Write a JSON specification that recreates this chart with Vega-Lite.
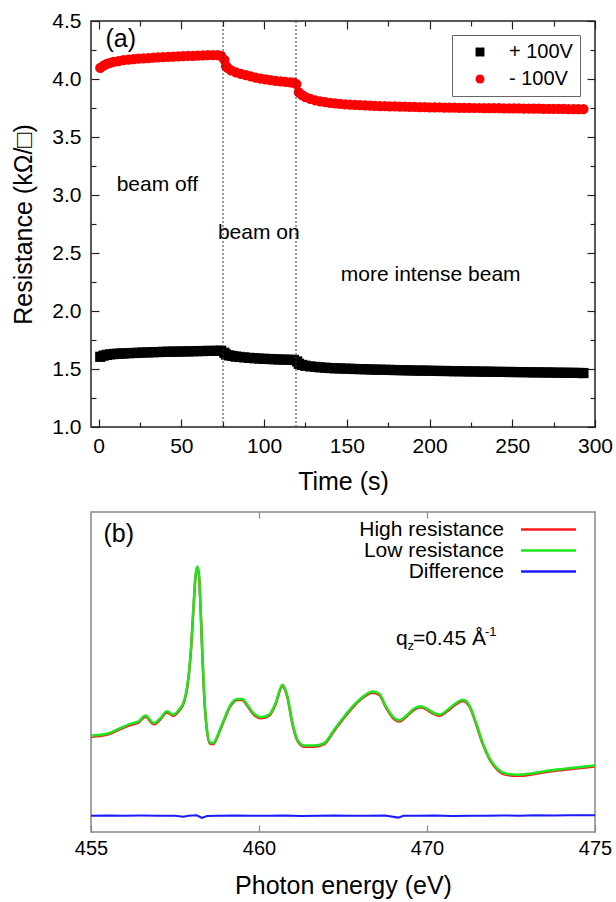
{
  "$schema": "https://vega.github.io/schema/vega-lite/v6.json",
  "padding": {"left": 11, "top": 9, "right": 0, "bottom": 0},
  "spacing": 15,
  "config": {
    "font": "Liberation Sans",
    "view": {"stroke": "#222"},
    "axis": {"grid": false, "domain": false, "labelColor": "#000", "titleColor": "#000", "titleFontWeight": "normal", "tickColor": "#222", "labelFont": "Liberation Sans", "titleFont": "Liberation Sans", "labelFlush": false, "labelOverlap": false, "labelBound": false},
    "legend": {"labelFont": "Liberation Sans", "labelColor": "#000"},
    "text": {"font": "Liberation Sans"}
  },
  "resolve": {"scale": {"color": "independent", "shape": "independent"}},
  "datasets": {
    "res": [
      {"t":1,"r":4.095,"s":"- 100V"},{"t":3,"r":4.115,"s":"- 100V"},{"t":5,"r":4.13,"s":"- 100V"},{"t":7,"r":4.14,"s":"- 100V"},{"t":9,"r":4.148,"s":"- 100V"},{"t":12,"r":4.155,"s":"- 100V"},{"t":15,"r":4.162,"s":"- 100V"},{"t":18,"r":4.167,"s":"- 100V"},{"t":21,"r":4.171,"s":"- 100V"},{"t":24,"r":4.175,"s":"- 100V"},{"t":27,"r":4.178,"s":"- 100V"},{"t":30,"r":4.181,"s":"- 100V"},{"t":33,"r":4.184,"s":"- 100V"},{"t":36,"r":4.187,"s":"- 100V"},{"t":39,"r":4.189,"s":"- 100V"},{"t":42,"r":4.191,"s":"- 100V"},{"t":45,"r":4.193,"s":"- 100V"},{"t":48,"r":4.195,"s":"- 100V"},{"t":51,"r":4.197,"s":"- 100V"},{"t":54,"r":4.199,"s":"- 100V"},{"t":57,"r":4.2,"s":"- 100V"},{"t":60,"r":4.202,"s":"- 100V"},{"t":63,"r":4.203,"s":"- 100V"},{"t":66,"r":4.205,"s":"- 100V"},{"t":69,"r":4.206,"s":"- 100V"},{"t":72,"r":4.206,"s":"- 100V"},{"t":74,"r":4.2,"s":"- 100V"},{"t":76,"r":4.165,"s":"- 100V"},{"t":77,"r":4.11,"s":"- 100V"},{"t":78,"r":4.095,"s":"- 100V"},{"t":80,"r":4.075,"s":"- 100V"},{"t":83,"r":4.058,"s":"- 100V"},{"t":86,"r":4.045,"s":"- 100V"},{"t":89,"r":4.033,"s":"- 100V"},{"t":92,"r":4.022,"s":"- 100V"},{"t":95,"r":4.012,"s":"- 100V"},{"t":98,"r":4.003,"s":"- 100V"},{"t":101,"r":3.996,"s":"- 100V"},{"t":104,"r":3.99,"s":"- 100V"},{"t":107,"r":3.984,"s":"- 100V"},{"t":110,"r":3.979,"s":"- 100V"},{"t":113,"r":3.975,"s":"- 100V"},{"t":116,"r":3.971,"s":"- 100V"},{"t":118,"r":3.968,"s":"- 100V"},{"t":119.5,"r":3.955,"s":"- 100V"},{"t":121,"r":3.885,"s":"- 100V"},{"t":123,"r":3.86,"s":"- 100V"},{"t":125,"r":3.843,"s":"- 100V"},{"t":128,"r":3.828,"s":"- 100V"},{"t":131,"r":3.816,"s":"- 100V"},{"t":134,"r":3.808,"s":"- 100V"},{"t":137,"r":3.8,"s":"- 100V"},{"t":140,"r":3.794,"s":"- 100V"},{"t":143,"r":3.789,"s":"- 100V"},{"t":146,"r":3.785,"s":"- 100V"},{"t":149,"r":3.782,"s":"- 100V"},{"t":152,"r":3.779,"s":"- 100V"},{"t":155,"r":3.777,"s":"- 100V"},{"t":158,"r":3.774,"s":"- 100V"},{"t":161,"r":3.772,"s":"- 100V"},{"t":164,"r":3.77,"s":"- 100V"},{"t":167,"r":3.769,"s":"- 100V"},{"t":170,"r":3.767,"s":"- 100V"},{"t":173,"r":3.766,"s":"- 100V"},{"t":176,"r":3.765,"s":"- 100V"},{"t":179,"r":3.763,"s":"- 100V"},{"t":182,"r":3.762,"s":"- 100V"},{"t":185,"r":3.761,"s":"- 100V"},{"t":188,"r":3.76,"s":"- 100V"},{"t":191,"r":3.759,"s":"- 100V"},{"t":194,"r":3.758,"s":"- 100V"},{"t":197,"r":3.757,"s":"- 100V"},{"t":200,"r":3.756,"s":"- 100V"},{"t":203,"r":3.755,"s":"- 100V"},{"t":206,"r":3.755,"s":"- 100V"},{"t":209,"r":3.754,"s":"- 100V"},{"t":212,"r":3.753,"s":"- 100V"},{"t":215,"r":3.753,"s":"- 100V"},{"t":218,"r":3.752,"s":"- 100V"},{"t":221,"r":3.752,"s":"- 100V"},{"t":224,"r":3.751,"s":"- 100V"},{"t":227,"r":3.75,"s":"- 100V"},{"t":230,"r":3.75,"s":"- 100V"},{"t":233,"r":3.749,"s":"- 100V"},{"t":236,"r":3.749,"s":"- 100V"},{"t":239,"r":3.748,"s":"- 100V"},{"t":242,"r":3.748,"s":"- 100V"},{"t":245,"r":3.747,"s":"- 100V"},{"t":248,"r":3.747,"s":"- 100V"},{"t":251,"r":3.746,"s":"- 100V"},{"t":254,"r":3.746,"s":"- 100V"},{"t":257,"r":3.745,"s":"- 100V"},{"t":260,"r":3.745,"s":"- 100V"},{"t":263,"r":3.744,"s":"- 100V"},{"t":266,"r":3.744,"s":"- 100V"},{"t":269,"r":3.743,"s":"- 100V"},{"t":272,"r":3.743,"s":"- 100V"},{"t":275,"r":3.743,"s":"- 100V"},{"t":278,"r":3.742,"s":"- 100V"},{"t":281,"r":3.742,"s":"- 100V"},{"t":284,"r":3.741,"s":"- 100V"},{"t":287,"r":3.741,"s":"- 100V"},{"t":290,"r":3.741,"s":"- 100V"},{"t":293,"r":3.74,"s":"- 100V"},
      {"t":1,"r":1.605,"s":"+ 100V"},{"t":3,"r":1.615,"s":"+ 100V"},{"t":5,"r":1.622,"s":"+ 100V"},{"t":7,"r":1.626,"s":"+ 100V"},{"t":9,"r":1.629,"s":"+ 100V"},{"t":11,"r":1.631,"s":"+ 100V"},{"t":13,"r":1.633,"s":"+ 100V"},{"t":15,"r":1.634,"s":"+ 100V"},{"t":18,"r":1.636,"s":"+ 100V"},{"t":21,"r":1.638,"s":"+ 100V"},{"t":24,"r":1.64,"s":"+ 100V"},{"t":27,"r":1.642,"s":"+ 100V"},{"t":30,"r":1.643,"s":"+ 100V"},{"t":33,"r":1.645,"s":"+ 100V"},{"t":36,"r":1.646,"s":"+ 100V"},{"t":39,"r":1.648,"s":"+ 100V"},{"t":42,"r":1.649,"s":"+ 100V"},{"t":45,"r":1.65,"s":"+ 100V"},{"t":48,"r":1.65,"s":"+ 100V"},{"t":51,"r":1.651,"s":"+ 100V"},{"t":54,"r":1.652,"s":"+ 100V"},{"t":57,"r":1.653,"s":"+ 100V"},{"t":60,"r":1.654,"s":"+ 100V"},{"t":63,"r":1.655,"s":"+ 100V"},{"t":66,"r":1.656,"s":"+ 100V"},{"t":69,"r":1.656,"s":"+ 100V"},{"t":72,"r":1.657,"s":"+ 100V"},{"t":74,"r":1.657,"s":"+ 100V"},{"t":76,"r":1.64,"s":"+ 100V"},{"t":77,"r":1.625,"s":"+ 100V"},{"t":79,"r":1.617,"s":"+ 100V"},{"t":81,"r":1.612,"s":"+ 100V"},{"t":83,"r":1.607,"s":"+ 100V"},{"t":85,"r":1.604,"s":"+ 100V"},{"t":88,"r":1.6,"s":"+ 100V"},{"t":91,"r":1.596,"s":"+ 100V"},{"t":94,"r":1.593,"s":"+ 100V"},{"t":97,"r":1.59,"s":"+ 100V"},{"t":100,"r":1.588,"s":"+ 100V"},{"t":103,"r":1.586,"s":"+ 100V"},{"t":106,"r":1.584,"s":"+ 100V"},{"t":109,"r":1.582,"s":"+ 100V"},{"t":112,"r":1.581,"s":"+ 100V"},{"t":115,"r":1.58,"s":"+ 100V"},{"t":118,"r":1.578,"s":"+ 100V"},{"t":120,"r":1.565,"s":"+ 100V"},{"t":121,"r":1.545,"s":"+ 100V"},{"t":123,"r":1.535,"s":"+ 100V"},{"t":125,"r":1.528,"s":"+ 100V"},{"t":128,"r":1.522,"s":"+ 100V"},{"t":131,"r":1.518,"s":"+ 100V"},{"t":134,"r":1.514,"s":"+ 100V"},{"t":137,"r":1.511,"s":"+ 100V"},{"t":140,"r":1.508,"s":"+ 100V"},{"t":143,"r":1.506,"s":"+ 100V"},{"t":146,"r":1.505,"s":"+ 100V"},{"t":149,"r":1.503,"s":"+ 100V"},{"t":152,"r":1.502,"s":"+ 100V"},{"t":155,"r":1.5,"s":"+ 100V"},{"t":158,"r":1.499,"s":"+ 100V"},{"t":161,"r":1.498,"s":"+ 100V"},{"t":164,"r":1.496,"s":"+ 100V"},{"t":167,"r":1.495,"s":"+ 100V"},{"t":170,"r":1.494,"s":"+ 100V"},{"t":173,"r":1.493,"s":"+ 100V"},{"t":176,"r":1.492,"s":"+ 100V"},{"t":179,"r":1.491,"s":"+ 100V"},{"t":182,"r":1.49,"s":"+ 100V"},{"t":185,"r":1.489,"s":"+ 100V"},{"t":188,"r":1.488,"s":"+ 100V"},{"t":191,"r":1.487,"s":"+ 100V"},{"t":194,"r":1.486,"s":"+ 100V"},{"t":197,"r":1.486,"s":"+ 100V"},{"t":200,"r":1.485,"s":"+ 100V"},{"t":203,"r":1.484,"s":"+ 100V"},{"t":206,"r":1.483,"s":"+ 100V"},{"t":209,"r":1.483,"s":"+ 100V"},{"t":212,"r":1.482,"s":"+ 100V"},{"t":215,"r":1.481,"s":"+ 100V"},{"t":218,"r":1.481,"s":"+ 100V"},{"t":221,"r":1.48,"s":"+ 100V"},{"t":224,"r":1.479,"s":"+ 100V"},{"t":227,"r":1.479,"s":"+ 100V"},{"t":230,"r":1.478,"s":"+ 100V"},{"t":233,"r":1.477,"s":"+ 100V"},{"t":236,"r":1.477,"s":"+ 100V"},{"t":239,"r":1.476,"s":"+ 100V"},{"t":242,"r":1.475,"s":"+ 100V"},{"t":245,"r":1.475,"s":"+ 100V"},{"t":248,"r":1.474,"s":"+ 100V"},{"t":251,"r":1.474,"s":"+ 100V"},{"t":254,"r":1.473,"s":"+ 100V"},{"t":257,"r":1.473,"s":"+ 100V"},{"t":260,"r":1.472,"s":"+ 100V"},{"t":263,"r":1.471,"s":"+ 100V"},{"t":266,"r":1.471,"s":"+ 100V"},{"t":269,"r":1.47,"s":"+ 100V"},{"t":272,"r":1.47,"s":"+ 100V"},{"t":275,"r":1.469,"s":"+ 100V"},{"t":278,"r":1.468,"s":"+ 100V"},{"t":281,"r":1.468,"s":"+ 100V"},{"t":284,"r":1.467,"s":"+ 100V"},{"t":287,"r":1.467,"s":"+ 100V"},{"t":290,"r":1.466,"s":"+ 100V"},{"t":293,"r":1.465,"s":"+ 100V"}
    ],
    "lines_a": [{"t": 75.2}, {"t": 119.3}],
    "notes_a": [
      {"t": 35.5, "r": 3.086, "label": "beam off"},
      {"t": 96.8, "r": 2.672, "label": "beam on"},
      {"t": 200.7, "r": 2.31, "label": "more intense beam"}
    ],
    "tag_a": [{"t": 13.4, "r": 4.345, "label": "(a)"}],
    "spec": [
      {"E":450.00,"v":29.75,"s":"High resistance"},{"E":450.95,"v":30.35,"s":"High resistance"},{"E":451.55,"v":31.65,"s":"High resistance"},{"E":452.34,"v":33.45,"s":"High resistance"},{"E":452.84,"v":34.25,"s":"High resistance"},{"E":453.24,"v":36.05,"s":"High resistance"},{"E":453.74,"v":33.65,"s":"High resistance"},{"E":454.13,"v":35.25,"s":"High resistance"},{"E":454.53,"v":37.35,"s":"High resistance"},{"E":454.89,"v":36.35,"s":"High resistance"},{"E":455.23,"v":37.85,"s":"High resistance"},{"E":455.53,"v":40.45,"s":"High resistance"},{"E":455.73,"v":45.15,"s":"High resistance"},{"E":455.92,"v":54.55,"s":"High resistance"},{"E":456.08,"v":68.05,"s":"High resistance"},{"E":456.22,"v":79.55,"s":"High resistance"},{"E":456.32,"v":82.65,"s":"High resistance"},{"E":456.42,"v":80.55,"s":"High resistance"},{"E":456.52,"v":70.15,"s":"High resistance"},{"E":456.62,"v":56.65,"s":"High resistance"},{"E":456.72,"v":44.15,"s":"High resistance"},{"E":456.88,"v":32.65,"s":"High resistance"},{"E":457.08,"v":27.65,"s":"High resistance"},{"E":457.28,"v":27.45,"s":"High resistance"},{"E":457.51,"v":29.55,"s":"High resistance"},{"E":457.91,"v":34.75,"s":"High resistance"},{"E":458.31,"v":39.45,"s":"High resistance"},{"E":458.71,"v":41.25,"s":"High resistance"},{"E":459.01,"v":41.25,"s":"High resistance"},{"E":459.30,"v":39.45,"s":"High resistance"},{"E":459.70,"v":36.65,"s":"High resistance"},{"E":460.10,"v":35.55,"s":"High resistance"},{"E":460.60,"v":36.35,"s":"High resistance"},{"E":460.99,"v":39.95,"s":"High resistance"},{"E":461.39,"v":45.65,"s":"High resistance"},{"E":461.69,"v":42.05,"s":"High resistance"},{"E":461.99,"v":33.75,"s":"High resistance"},{"E":462.29,"v":28.45,"s":"High resistance"},{"E":462.69,"v":26.65,"s":"High resistance"},{"E":463.28,"v":26.65,"s":"High resistance"},{"E":463.88,"v":27.45,"s":"High resistance"},{"E":464.48,"v":31.65,"s":"High resistance"},{"E":465.07,"v":35.75,"s":"High resistance"},{"E":465.67,"v":39.45,"s":"High resistance"},{"E":466.26,"v":42.25,"s":"High resistance"},{"E":466.76,"v":43.55,"s":"High resistance"},{"E":467.16,"v":42.85,"s":"High resistance"},{"E":467.55,"v":38.95,"s":"High resistance"},{"E":468.05,"v":35.25,"s":"High resistance"},{"E":468.35,"v":34.55,"s":"High resistance"},{"E":468.75,"v":35.95,"s":"High resistance"},{"E":469.24,"v":38.25,"s":"High resistance"},{"E":469.64,"v":38.95,"s":"High resistance"},{"E":470.04,"v":38.05,"s":"High resistance"},{"E":470.24,"v":37.35,"s":"High resistance"},{"E":470.74,"v":36.35,"s":"High resistance"},{"E":471.23,"v":37.85,"s":"High resistance"},{"E":471.73,"v":39.95,"s":"High resistance"},{"E":472.13,"v":40.95,"s":"High resistance"},{"E":472.53,"v":39.15,"s":"High resistance"},{"E":472.92,"v":33.75,"s":"High resistance"},{"E":473.32,"v":27.45,"s":"High resistance"},{"E":473.72,"v":22.75,"s":"High resistance"},{"E":474.21,"v":19.35,"s":"High resistance"},{"E":474.71,"v":17.85,"s":"High resistance"},{"E":475.41,"v":17.55,"s":"High resistance"},{"E":476.20,"v":17.95,"s":"High resistance"},{"E":477.39,"v":18.95,"s":"High resistance"},{"E":478.59,"v":19.65,"s":"High resistance"},{"E":479.98,"v":20.45,"s":"High resistance"},
      {"E":450.00,"v":30.1,"s":"Low resistance"},{"E":450.95,"v":30.7,"s":"Low resistance"},{"E":451.55,"v":32.0,"s":"Low resistance"},{"E":452.34,"v":33.8,"s":"Low resistance"},{"E":452.84,"v":34.6,"s":"Low resistance"},{"E":453.24,"v":36.4,"s":"Low resistance"},{"E":453.74,"v":34.0,"s":"Low resistance"},{"E":454.13,"v":35.6,"s":"Low resistance"},{"E":454.53,"v":37.7,"s":"Low resistance"},{"E":454.89,"v":36.7,"s":"Low resistance"},{"E":455.23,"v":38.2,"s":"Low resistance"},{"E":455.53,"v":40.8,"s":"Low resistance"},{"E":455.73,"v":45.5,"s":"Low resistance"},{"E":455.92,"v":54.9,"s":"Low resistance"},{"E":456.08,"v":68.4,"s":"Low resistance"},{"E":456.22,"v":79.9,"s":"Low resistance"},{"E":456.32,"v":83.0,"s":"Low resistance"},{"E":456.42,"v":80.9,"s":"Low resistance"},{"E":456.52,"v":70.5,"s":"Low resistance"},{"E":456.62,"v":57.0,"s":"Low resistance"},{"E":456.72,"v":44.5,"s":"Low resistance"},{"E":456.88,"v":33.0,"s":"Low resistance"},{"E":457.08,"v":28.0,"s":"Low resistance"},{"E":457.28,"v":27.8,"s":"Low resistance"},{"E":457.51,"v":29.9,"s":"Low resistance"},{"E":457.91,"v":35.1,"s":"Low resistance"},{"E":458.31,"v":39.8,"s":"Low resistance"},{"E":458.71,"v":41.6,"s":"Low resistance"},{"E":459.01,"v":41.6,"s":"Low resistance"},{"E":459.30,"v":39.8,"s":"Low resistance"},{"E":459.70,"v":37.0,"s":"Low resistance"},{"E":460.10,"v":35.9,"s":"Low resistance"},{"E":460.60,"v":36.7,"s":"Low resistance"},{"E":460.99,"v":40.3,"s":"Low resistance"},{"E":461.39,"v":46.0,"s":"Low resistance"},{"E":461.69,"v":42.4,"s":"Low resistance"},{"E":461.99,"v":34.1,"s":"Low resistance"},{"E":462.29,"v":28.8,"s":"Low resistance"},{"E":462.69,"v":27.0,"s":"Low resistance"},{"E":463.28,"v":27.0,"s":"Low resistance"},{"E":463.88,"v":27.8,"s":"Low resistance"},{"E":464.48,"v":32.0,"s":"Low resistance"},{"E":465.07,"v":36.1,"s":"Low resistance"},{"E":465.67,"v":39.8,"s":"Low resistance"},{"E":466.26,"v":42.6,"s":"Low resistance"},{"E":466.76,"v":43.9,"s":"Low resistance"},{"E":467.16,"v":43.2,"s":"Low resistance"},{"E":467.55,"v":39.3,"s":"Low resistance"},{"E":468.05,"v":35.6,"s":"Low resistance"},{"E":468.35,"v":34.9,"s":"Low resistance"},{"E":468.75,"v":36.3,"s":"Low resistance"},{"E":469.24,"v":38.6,"s":"Low resistance"},{"E":469.64,"v":39.3,"s":"Low resistance"},{"E":470.04,"v":38.4,"s":"Low resistance"},{"E":470.24,"v":37.7,"s":"Low resistance"},{"E":470.74,"v":36.7,"s":"Low resistance"},{"E":471.23,"v":38.2,"s":"Low resistance"},{"E":471.73,"v":40.3,"s":"Low resistance"},{"E":472.13,"v":41.3,"s":"Low resistance"},{"E":472.53,"v":39.5,"s":"Low resistance"},{"E":472.92,"v":34.1,"s":"Low resistance"},{"E":473.32,"v":27.8,"s":"Low resistance"},{"E":473.72,"v":23.1,"s":"Low resistance"},{"E":474.21,"v":19.7,"s":"Low resistance"},{"E":474.71,"v":18.2,"s":"Low resistance"},{"E":475.41,"v":17.9,"s":"Low resistance"},{"E":476.20,"v":18.3,"s":"Low resistance"},{"E":477.39,"v":19.3,"s":"Low resistance"},{"E":478.59,"v":20.0,"s":"Low resistance"},{"E":479.98,"v":20.8,"s":"Low resistance"},
      {"E":450.0,"v":5.1,"s":"Difference"},{"E":451.0,"v":5.15,"s":"Difference"},{"E":452.0,"v":5.05,"s":"Difference"},{"E":453.0,"v":5.12,"s":"Difference"},{"E":454.0,"v":5.1,"s":"Difference"},{"E":455.0,"v":5.05,"s":"Difference"},{"E":455.5,"v":4.8,"s":"Difference"},{"E":455.8,"v":5.1,"s":"Difference"},{"E":456.3,"v":5.2,"s":"Difference"},{"E":456.6,"v":4.4,"s":"Difference"},{"E":456.9,"v":5.0,"s":"Difference"},{"E":457.5,"v":5.1,"s":"Difference"},{"E":458.5,"v":5.15,"s":"Difference"},{"E":459.5,"v":5.05,"s":"Difference"},{"E":460.5,"v":5.1,"s":"Difference"},{"E":461.5,"v":5.12,"s":"Difference"},{"E":462.5,"v":5.0,"s":"Difference"},{"E":463.5,"v":5.1,"s":"Difference"},{"E":464.5,"v":5.15,"s":"Difference"},{"E":465.5,"v":5.05,"s":"Difference"},{"E":466.5,"v":5.1,"s":"Difference"},{"E":467.5,"v":5.15,"s":"Difference"},{"E":468.3,"v":4.5,"s":"Difference"},{"E":468.6,"v":5.05,"s":"Difference"},{"E":469.5,"v":5.1,"s":"Difference"},{"E":470.5,"v":5.15,"s":"Difference"},{"E":471.5,"v":5.0,"s":"Difference"},{"E":472.5,"v":5.1,"s":"Difference"},{"E":473.5,"v":5.05,"s":"Difference"},{"E":474.5,"v":5.15,"s":"Difference"},{"E":475.5,"v":5.1,"s":"Difference"},{"E":476.5,"v":5.2,"s":"Difference"},{"E":477.5,"v":5.15,"s":"Difference"},{"E":478.5,"v":5.2,"s":"Difference"},{"E":479.5,"v":5.25,"s":"Difference"},{"E":480.0,"v":5.25,"s":"Difference"}
    ],
    "tag_b": [{"E": 451.65, "v": 93.2, "label": "(b)"}],
    "qz": [{"E": 468.15, "v": 58.4}]
  },
  "vconcat": [
    {
      "width": 504,
      "height": 406,
      "view": {"stroke": "#222", "strokeWidth": 1.5},
      "resolve": {"axis": {"x": "independent", "y": "independent"}},
      "layer": [
        {
          "data": {"name": "res"},
          "mark": {"type": "point", "filled": true, "opacity": 1, "size": 105},
          "encoding": {
            "x": {"field": "t", "type": "quantitative", "scale": {"domain": [-4.6, 300], "nice": false, "zero": false},
              "axis": {"orient": "bottom", "title": "Time (s)", "values": [0,25,50,75,100,125,150,175,200,225,250,275,300],
                "labelExpr": "datum.value % 50 == 0 ? datum.label : ''",
                "tickSize": {"condition": {"test": "datum.value % 50 == 0", "value": -8}, "value": -5},
                "labelFontSize": 21, "labelPadding": 16, "titleFontSize": 25, "titlePadding": 10, "tickWidth": 1.2}},
            "y": {"field": "r", "type": "quantitative", "scale": {"domain": [1, 4.5], "nice": false, "zero": false},
              "axis": {"orient": "left", "title": "Resistance (kΩ/□)", "values": [1,1.25,1.5,1.75,2,2.25,2.5,2.75,3,3.25,3.5,3.75,4,4.25,4.5],
                "labelExpr": "round(datum.value*4) % 2 == 0 ? format(datum.value, '.1f') : ''",
                "tickSize": {"condition": {"test": "round(datum.value*4) % 2 == 0", "value": -8}, "value": -5},
                "labelFontSize": 21, "labelPadding": 18, "titleFontSize": 25, "titlePadding": 15, "tickWidth": 1.2}},
            "color": {"field": "s", "type": "nominal", "scale": {"domain": ["+ 100V", "- 100V"], "range": ["#000000", "#ff0000"]},
              "legend": {"title": null, "orient": "none", "legendX": 361, "legendY": 14, "strokeColor": "#666", "padding": 7, "symbolOffset": 11, "labelOffset": 19, "labelFontSize": 20, "rowPadding": 7, "symbolSize": 80, "fillColor": "#fff"}},
            "shape": {"field": "s", "type": "nominal", "scale": {"domain": ["+ 100V", "- 100V"], "range": ["square", "circle"]},
              "legend": {"title": null, "orient": "none", "legendX": 361, "legendY": 14, "strokeColor": "#666", "padding": 7, "symbolOffset": 11, "labelOffset": 19, "labelFontSize": 20, "rowPadding": 7, "symbolSize": 80, "fillColor": "#fff"}}
          }
        },
        {
          "data": {"name": "lines_a"},
          "mark": {"type": "rule", "color": "#333", "strokeDash": [2, 2], "strokeWidth": 1},
          "encoding": {
            "x": {"field": "t", "type": "quantitative",
              "axis": {"orient": "top", "title": null, "labels": false, "values": [0,25,50,75,100,125,150,175,200,225,250,275,300],
                "tickSize": {"condition": {"test": "datum.value % 50 == 0", "value": -8}, "value": -5}, "tickWidth": 1.2}}
          }
        },
        {
          "data": {"name": "notes_a"},
          "mark": {"type": "text", "fontSize": 21, "align": "center", "baseline": "middle", "color": "#000"},
          "encoding": {
            "x": {"field": "t", "type": "quantitative", "axis": null},
            "y": {"field": "r", "type": "quantitative",
              "axis": {"orient": "right", "title": null, "labels": false, "values": [1,1.25,1.5,1.75,2,2.25,2.5,2.75,3,3.25,3.5,3.75,4,4.25,4.5],
                "tickSize": {"condition": {"test": "round(datum.value*4) % 2 == 0", "value": -8}, "value": -5}, "tickWidth": 1.2}},
            "text": {"field": "label"}
          }
        },
        {
          "data": {"name": "tag_a"},
          "mark": {"type": "text", "fontSize": 25, "align": "center", "baseline": "middle", "color": "#000"},
          "encoding": {
            "x": {"field": "t", "type": "quantitative", "axis": null},
            "y": {"field": "r", "type": "quantitative", "axis": null},
            "text": {"field": "label"}
          }
        }
      ]
    },
    {
      "width": 504,
      "height": 320,
      "view": {"stroke": "#888", "strokeWidth": 1.5},
      "resolve": {"axis": {"x": "independent"}},
      "layer": [
        {
          "data": {"name": "spec"},
          "transform": [{"filter": "datum.s == 'High resistance'"}],
          "mark": {"type": "line", "strokeWidth": 2.5, "interpolate": "monotone"},
          "encoding": {
            "x": {"field": "E", "type": "quantitative", "scale": {"domain": [450, 480], "nice": false, "zero": false},
              "axis": {"orient": "bottom", "title": "Photon energy (eV)", "values": [450, 460, 470, 480],
                "labelExpr": "datum.value == 450 ? '455' : datum.value == 480 ? '475' : datum.label",
                "tickSize": -7, "tickColor": "#888", "tickWidth": 1.2, "labelFontSize": 20, "labelPadding": 13, "titleFontSize": 25, "titlePadding": 15}},
            "y": {"field": "v", "type": "quantitative", "scale": {"domain": [0, 100], "nice": false, "zero": false},
              "axis": {"orient": "left", "title": "Reflectivity (arb. units)", "ticks": false, "labels": false, "titleFontSize": 25, "titlePadding": 23}},
            "color": {"field": "s", "type": "nominal", "scale": {"domain": ["High resistance", "Low resistance", "Difference"], "range": ["#ff1a1a", "#1ee61e", "#1a1aff"]},
              "legend": {"title": null, "orient": "none", "legendX": 447, "legendY": 7, "padding": 0, "symbolType": "M-5,0H5", "symbolSize": 121, "symbolStrokeWidth": 2.5, "labelAlign": "right", "labelOffset": -55, "labelFontSize": 21, "rowPadding": -3}}
          }
        },
        {
          "data": {"name": "spec"},
          "transform": [{"filter": "datum.s == 'Low resistance'"}],
          "mark": {"type": "line", "strokeWidth": 2.5, "interpolate": "monotone"},
          "encoding": {
            "x": {"field": "E", "type": "quantitative", "axis": null},
            "y": {"field": "v", "type": "quantitative", "axis": null},
            "color": {"field": "s", "type": "nominal"}
          }
        },
        {
          "data": {"name": "spec"},
          "transform": [{"filter": "datum.s == 'Difference'"}],
          "mark": {"type": "line", "strokeWidth": 2},
          "encoding": {
            "x": {"field": "E", "type": "quantitative",
              "axis": {"orient": "top", "title": null, "labels": false, "values": [460, 470], "tickSize": -6, "tickColor": "#888", "tickWidth": 1.2}},
            "y": {"field": "v", "type": "quantitative", "axis": null},
            "color": {"field": "s", "type": "nominal"}
          }
        },
        {
          "data": {"name": "tag_b"},
          "mark": {"type": "text", "fontSize": 25, "align": "center", "baseline": "middle", "color": "#000"},
          "encoding": {
            "x": {"field": "E", "type": "quantitative", "axis": null},
            "y": {"field": "v", "type": "quantitative", "axis": null},
            "text": {"field": "label"}
          }
        },
        {
          "data": {"name": "qz"},
          "mark": {"type": "text", "text": "q", "fontSize": 21, "align": "left", "baseline": "alphabetic", "color": "#000"},
          "encoding": {"x": {"field": "E", "type": "quantitative", "axis": null}, "y": {"field": "v", "type": "quantitative", "axis": null}}
        },
        {
          "data": {"name": "qz"},
          "mark": {"type": "text", "text": "z", "fontSize": 13, "dx": 11.5, "dy": 5, "align": "left", "baseline": "alphabetic", "color": "#000"},
          "encoding": {"x": {"field": "E", "type": "quantitative", "axis": null}, "y": {"field": "v", "type": "quantitative", "axis": null}}
        },
        {
          "data": {"name": "qz"},
          "mark": {"type": "text", "text": "=0.45 Å", "fontSize": 21, "dx": 17, "align": "left", "baseline": "alphabetic", "color": "#000"},
          "encoding": {"x": {"field": "E", "type": "quantitative", "axis": null}, "y": {"field": "v", "type": "quantitative", "axis": null}}
        },
        {
          "data": {"name": "qz"},
          "mark": {"type": "text", "text": "-1", "fontSize": 13, "dx": 89, "dy": -9, "align": "left", "baseline": "alphabetic", "color": "#000"},
          "encoding": {"x": {"field": "E", "type": "quantitative", "axis": null}, "y": {"field": "v", "type": "quantitative", "axis": null}}
        }
      ]
    }
  ]
}
